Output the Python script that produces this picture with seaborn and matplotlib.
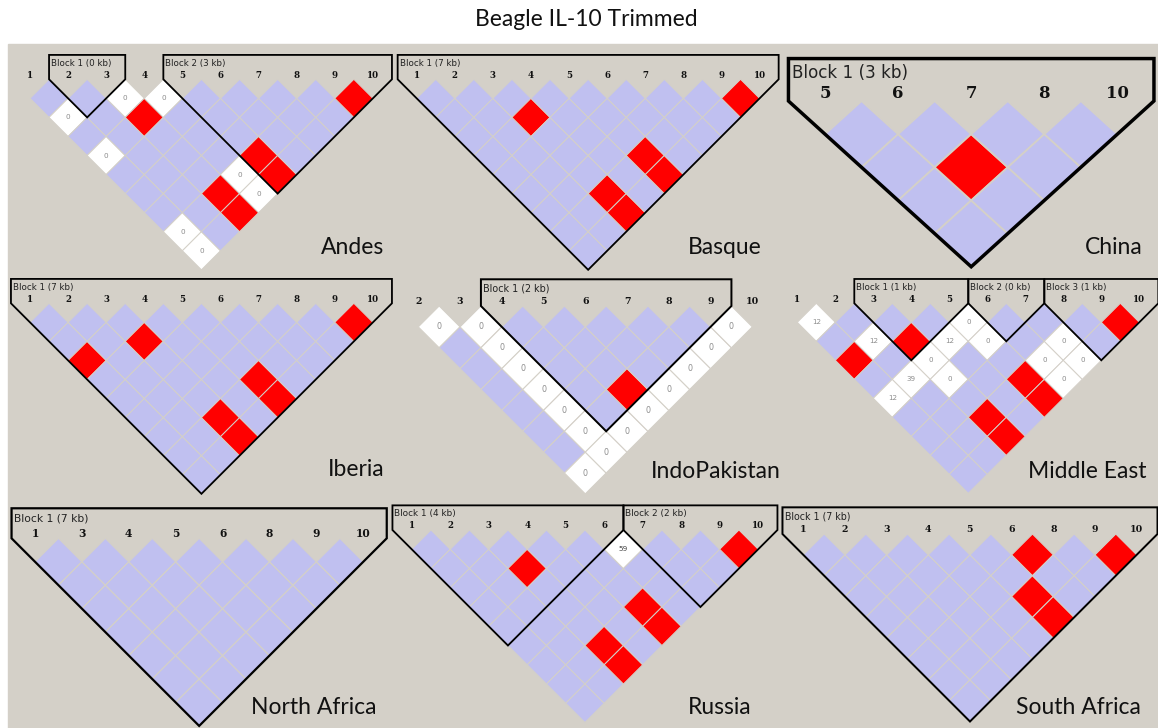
import matplotlib
matplotlib.use("Agg")
import matplotlib.pyplot as plt
from matplotlib.patches import Polygon, Rectangle
from matplotlib.collections import PolyCollection
import seaborn as sns

sns.set_theme(style="white")
plt.rcParams["font.family"] = ["DejaVu Sans"]

W, H = 1158, 728
BG = "#d4d0c8"
BLUE = "#c0c0f0"
RED = "#ff0000"

TITLE = "Beagle IL-10 Trimmed"

# --- data ---
# red = strong LD, white = weak LD (with D' x100 shown), everything else blue
ANDES_MARKERS = [1, 2, 3, 4, 5, 6, 7, 8, 9, 10]
ANDES_RED = [(3, 5), (9, 10), (5, 9), (5, 10), (3, 9), (3, 10)]
ANDES_WHITE = {(3, 4): 0, (4, 5): 0, (1, 3): 0, (1, 5): 0, (4, 9): 0,
               (4, 10): 0, (1, 9): 0, (1, 10): 0}
ANDES_BLOCKS = [(2, 3, "Block 1 (0 kb)"), (5, 10, "Block 2 (3 kb)")]

BASQUE_MARKERS = [1, 2, 3, 4, 5, 6, 7, 8, 9, 10]
BASQUE_RED = [(3, 5), (9, 10), (5, 9), (5, 10), (3, 9), (3, 10)]
BASQUE_WHITE = {}
BASQUE_BLOCKS = [(1, 10, "Block 1 (7 kb)")]

CHINA_MARKERS = [5, 6, 7, 8, 10]
CHINA_RED = [(6, 8)]
CHINA_WHITE = {}
CHINA_BLOCKS = [(5, 10, "Block 1 (3 kb)")]

IBERIA_MARKERS = [1, 2, 3, 4, 5, 6, 7, 8, 9, 10]
IBERIA_RED = [(1, 4), (3, 5), (9, 10), (5, 9), (5, 10), (3, 9), (3, 10)]
IBERIA_WHITE = {}
IBERIA_BLOCKS = [(1, 10, "Block 1 (7 kb)")]

INDO_MARKERS = [2, 3, 4, 5, 6, 7, 8, 9, 10]
INDO_RED = [(5, 9)]
INDO_WHITE = {(2, 3): 0, (3, 4): 0, (3, 5): 0, (3, 6): 0, (3, 7): 0,
              (3, 8): 0, (3, 9): 0, (3, 10): 0, (2, 10): 0, (4, 10): 0,
              (5, 10): 0, (6, 10): 0, (7, 10): 0, (8, 10): 0, (9, 10): 0}
INDO_BLOCKS = [(4, 9, "Block 1 (2 kb)")]

MIDEAST_MARKERS = [1, 2, 3, 4, 5, 6, 7, 8, 9, 10]
MIDEAST_RED = [(1, 4), (3, 5), (9, 10), (5, 9), (5, 10), (3, 9), (3, 10)]
MIDEAST_WHITE = {(1, 2): 12, (5, 6): 0, (2, 4): 12, (4, 6): 12, (5, 7): 0,
                 (7, 9): 0, (3, 6): 0, (6, 9): 0, (7, 10): 0, (2, 6): 39,
                 (3, 7): 0, (6, 10): 0, (1, 6): 12}
MIDEAST_BLOCKS = [(3, 5, "Block 1 (1 kb)"), (6, 7, "Block 2 (0 kb)"),
                  (8, 10, "Block 3 (1 kb)")]

NAFRICA_MARKERS = [1, 3, 4, 5, 6, 8, 9, 10]
NAFRICA_RED = []
NAFRICA_WHITE = {}
NAFRICA_BLOCKS = [(1, 10, "Block 1 (7 kb)")]

RUSSIA_MARKERS = [1, 2, 3, 4, 5, 6, 7, 8, 9, 10]
RUSSIA_RED = [(3, 5), (9, 10), (5, 9), (5, 10), (3, 9), (3, 10)]
RUSSIA_WHITE = {(6, 7): 59}
RUSSIA_BLOCKS = [(1, 6, "Block 1 (4 kb)"), (7, 10, "Block 2 (2 kb)")]

SAFRICA_MARKERS = [1, 2, 3, 4, 5, 6, 8, 9, 10]
SAFRICA_RED = [(6, 8), (9, 10), (5, 9), (5, 10)]
SAFRICA_WHITE = {}
SAFRICA_BLOCKS = [(1, 10, "Block 1 (7 kb)")]

# layout (pixels): panel box, x of first marker, top of first row,
# horizontal / vertical step, label anchor
panels = [
    ("Andes", ANDES_MARKERS, ANDES_RED, ANDES_WHITE, ANDES_BLOCKS,
     (8, 44, 392, 270), 30.0, 79.3, 38.1, 38.1, (384, 248)),
    ("Basque", BASQUE_MARKERS, BASQUE_RED, BASQUE_WHITE, BASQUE_BLOCKS,
     (392, 44, 780, 270), 416.7, 79.3, 38.1, 38.1, (762, 248)),
    ("China", CHINA_MARKERS, CHINA_RED, CHINA_WHITE, CHINA_BLOCKS,
     (780, 44, 1158, 270), 825.0, 101.0, 73.1, 66.3, (1143, 248)),
    ("Iberia", IBERIA_MARKERS, IBERIA_RED, IBERIA_WHITE, IBERIA_BLOCKS,
     (8, 270, 392, 495), 30.0, 303.3, 38.1, 38.1, (384, 470)),
    ("IndoPakistan", INDO_MARKERS, INDO_RED, INDO_WHITE, INDO_BLOCKS,
     (392, 270, 780, 495), 418.3, 306.0, 41.75, 41.75, (781, 471)),
    ("Middle East", MIDEAST_MARKERS, MIDEAST_RED, MIDEAST_WHITE, MIDEAST_BLOCKS,
     (780, 270, 1158, 495), 797.3, 303.3, 38.0, 38.0, (1146, 471)),
    ("North Africa", NAFRICA_MARKERS, NAFRICA_RED, NAFRICA_WHITE, NAFRICA_BLOCKS,
     (8, 495, 392, 728), 35.0, 538.3, 46.9, 46.9, (376, 708)),
    ("Russia", RUSSIA_MARKERS, RUSSIA_RED, RUSSIA_WHITE, RUSSIA_BLOCKS,
     (392, 495, 780, 728), 411.7, 530.0, 38.5, 38.5, (751, 708)),
    ("South Africa", SAFRICA_MARKERS, SAFRICA_RED, SAFRICA_WHITE, SAFRICA_BLOCKS,
     (780, 495, 1158, 728), 803.3, 534.0, 41.67, 41.67, (1141, 708)),
]

fig = plt.figure(figsize=(W / 100, H / 100), dpi=100, facecolor="white")
fig.add_artist(Rectangle((8 / W, 0), (W - 8) / W, (H - 44) / H,
                         transform=fig.transFigure, color=BG, zorder=-5))

for name, markers, red, white, blocks, box, x0, top, sx, sy, lab in panels:
    L, T, R, B = box
    k = sx / 38.1  # text and line scale of this panel
    ax = fig.add_axes([L / W, 1 - B / H, (R - L) / W, (B - T) / H])
    ax.set_xlim((L - x0) / sx, (R - x0) / sx)
    ax.set_ylim(-(B - top) / sy, (top - T) / sy)
    ax.axis("off")

    idx = {m: i for i, m in enumerate(markers)}
    polys, colors = [], []
    for i in range(len(markers)):
        for j in range(i + 1, len(markers)):
            pair = (markers[i], markers[j])
            cx, cy = (i + j) / 2, -(j - i) / 2
            polys.append([(cx, cy + 0.5), (cx + 0.5, cy), (cx, cy - 0.5), (cx - 0.5, cy)])
            if pair in red:
                colors.append(RED)
            elif pair in white:
                colors.append("white")
                val = white[pair]
                ax.text(cx, cy, str(val), ha="center", va="center",
                        fontsize=5.2 * k, color="#444444" if val > 50 else "#8c8c8c")
            else:
                colors.append(BLUE)
    ax.add_collection(PolyCollection(polys, facecolors=colors, edgecolors=BG,
                                     linewidths=0.7 * k, zorder=1))

    for m, i in idx.items():
        ax.text(i, 0.11, str(m), ha="center", va="center", fontsize=6.2 * k,
                family="DejaVu Serif", weight="bold", color="#111111", clip_on=False)

    for a, b, text in blocks:
        ia, ib = idx[a], idx[b]
        outline = [(ia - 0.5, 0.64), (ia - 0.5, 0),
                   ((ia + ib) / 2, -((ib - ia) / 2 + 0.5)),
                   (ib + 0.5, 0), (ib + 0.5, 0.64)]
        ax.add_patch(Polygon(outline, closed=True, fill=False, edgecolor="black",
                             linewidth=1.3 * k, zorder=3, clip_on=False,
                             joinstyle="miter"))
        ax.text(ia - 0.45, 0.42, text, ha="left", va="center", fontsize=6.3 * k,
                color="#222222", clip_on=False)

    fig.text(lab[0] / W, 1 - lab[1] / H, name, ha="right", va="center",
             fontsize=16.5, family="Lato", color="#111111")

fig.text(586 / W, 1 - 19 / H, TITLE, ha="center", va="center", fontsize=16.5,
         family="Lato", color="#111111")

fig.savefig("out.png", dpi=100)
